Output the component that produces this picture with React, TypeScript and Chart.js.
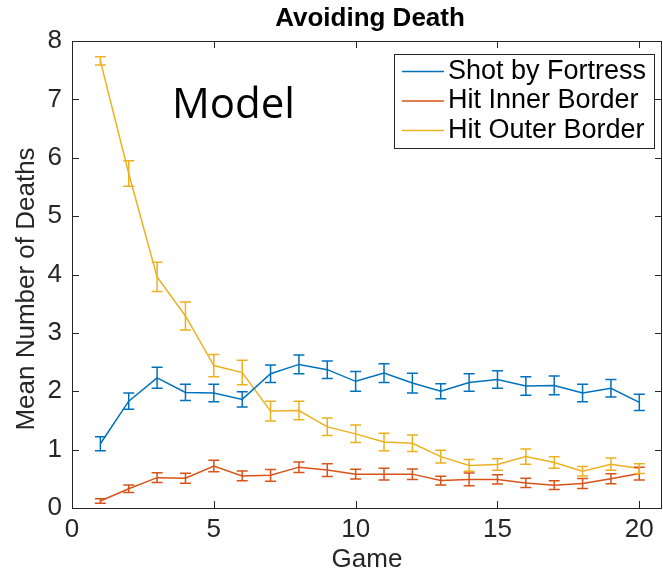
import React, { useEffect, useRef } from "react";
import { Chart, registerables } from "chart.js";

Chart.register(...registerables);

const games = [1, 2, 3, 4, 5, 6, 7, 8, 9, 10, 11, 12, 13, 14, 15, 16, 17, 18, 19, 20];

const shotByFortress = [1.1, 1.83, 2.23, 1.98, 1.97, 1.86, 2.3, 2.46, 2.37, 2.17, 2.31, 2.14, 2.0, 2.15, 2.2, 2.09, 2.1, 1.97, 2.05, 1.81];
const shotByFortressErr = [0.12, 0.14, 0.18, 0.14, 0.15, 0.13, 0.15, 0.16, 0.15, 0.17, 0.16, 0.17, 0.13, 0.15, 0.15, 0.16, 0.16, 0.15, 0.15, 0.14];

const hitInner = [0.12, 0.33, 0.52, 0.51, 0.72, 0.55, 0.56, 0.7, 0.65, 0.58, 0.58, 0.58, 0.47, 0.49, 0.49, 0.43, 0.39, 0.42, 0.5, 0.59];
const hitInnerErr = [0.04, 0.065, 0.085, 0.085, 0.1, 0.085, 0.1, 0.09, 0.11, 0.085, 0.1, 0.09, 0.075, 0.11, 0.08, 0.08, 0.075, 0.085, 0.085, 0.11];

const hitOuter = [7.66, 5.73, 3.96, 3.29, 2.44, 2.32, 1.66, 1.67, 1.39, 1.27, 1.13, 1.11, 0.88, 0.73, 0.745, 0.88, 0.78, 0.63, 0.75, 0.675];
const hitOuterErr = [0.07, 0.22, 0.25, 0.24, 0.19, 0.21, 0.17, 0.16, 0.15, 0.15, 0.15, 0.14, 0.11, 0.1, 0.1, 0.13, 0.1, 0.08, 0.105, 0.085];

const seriesLabels = ["Shot by Fortress", "Hit Inner Border", "Hit Outer Border"];
const seriesColors = ["#0072BD", "#D95319", "#EDB120"];
const xTicks = [0, 5, 10, 15, 20];
const yTicks = [0, 1, 2, 3, 4, 5, 6, 7, 8];

const titleText = "Avoiding Death";
const annotationText = "Model";
const xTitle = "Game";
const yTitle = "Mean Number of Deaths";

const errors = [shotByFortressErr, hitInnerErr, hitOuterErr];
const values = [shotByFortress, hitInner, hitOuter];

const AXIS = "#262626";
const FONT = "'Liberation Sans', Arial, sans-serif";

const decorPlugin = {
  id: "decor",
  afterDatasetsDraw(chart: any) {
    const { ctx, scales } = chart;
    const xs = scales.x;
    const ys = scales.y;
    ctx.save();
    values.forEach((vals, i) => {
      ctx.strokeStyle = seriesColors[i];
      ctx.lineWidth = 1.5;
      vals.forEach((v, j) => {
        const x = xs.getPixelForValue(games[j]);
        const yt = ys.getPixelForValue(v + errors[i][j]);
        const yb = ys.getPixelForValue(v - errors[i][j]);
        const cap = 5.5;
        ctx.beginPath();
        ctx.moveTo(x, yt);
        ctx.lineTo(x, yb);
        ctx.moveTo(x - cap, yt);
        ctx.lineTo(x + cap, yt);
        ctx.moveTo(x - cap, yb);
        ctx.lineTo(x + cap, yb);
        ctx.stroke();
      });
    });
    ctx.restore();
  },
  afterDraw(chart: any) {
    const { ctx, chartArea, scales } = chart;
    const { left, right, top, bottom } = chartArea;
    const xs = scales.x;
    const ys = scales.y;
    ctx.save();
    ctx.strokeStyle = AXIS;
    ctx.lineWidth = 1;
    ctx.strokeRect(Math.round(left) + 0.5, Math.round(top) + 0.5, Math.round(right - left) - 1, Math.round(bottom - top));
    const tl = 7;
    ctx.beginPath();
    xTicks.forEach((t) => {
      const x = Math.round(xs.getPixelForValue(t)) + 0.5;
      ctx.moveTo(x, bottom);
      ctx.lineTo(x, bottom - tl);
      ctx.moveTo(x, top);
      ctx.lineTo(x, top + tl);
    });
    yTicks.forEach((t) => {
      const y = Math.round(ys.getPixelForValue(t)) + 0.5;
      ctx.moveTo(left, y);
      ctx.lineTo(left + tl, y);
      ctx.moveTo(right, y);
      ctx.lineTo(right - tl, y);
    });
    ctx.stroke();

    // title
    ctx.fillStyle = "#000";
    ctx.font = "bold 26px " + FONT;
    ctx.textAlign = "center";
    ctx.textBaseline = "middle";
    ctx.fillText(titleText, 370, 19);

    // y axis title
    ctx.save();
    ctx.fillStyle = AXIS;
    ctx.font = "26px " + FONT;
    ctx.translate(27, 289);
    ctx.rotate(-Math.PI / 2);
    ctx.textAlign = "center";
    ctx.textBaseline = "middle";
    ctx.fillText(yTitle, 0, 0);
    ctx.restore();

    // annotation
    ctx.fillStyle = "#000";
    ctx.font = "42px 'Open Sans', sans-serif";
    ctx.textAlign = "left";
    ctx.textBaseline = "alphabetic";
    ctx.fillText(annotationText, 172, 118);

    // legend
    const lx = 394.5, ly = 54.5, lw = 260, lh = 94;
    ctx.fillStyle = "#fff";
    ctx.fillRect(lx, ly, lw, lh);
    ctx.strokeStyle = AXIS;
    ctx.lineWidth = 1;
    ctx.strokeRect(lx, ly, lw, lh);
    ctx.font = "27px " + FONT;
    ctx.textBaseline = "middle";
    ctx.textAlign = "left";
    const rows = [71.5, 101, 130.5];
    seriesLabels.forEach((lab, i) => {
      ctx.strokeStyle = seriesColors[i];
      ctx.lineWidth = 1.5;
      ctx.beginPath();
      ctx.moveTo(402, rows[i]);
      ctx.lineTo(444, rows[i]);
      ctx.stroke();
      ctx.fillStyle = "#000";
      ctx.fillText(lab, 448, rows[i]);
    });
    ctx.restore();
  },
};

export default function App() {
  const ref = useRef<HTMLCanvasElement>(null);
  useEffect(() => {
    if (!ref.current) return;
    const chart = new Chart(ref.current, {
      type: "line",
      data: {
        datasets: values.map((vals, i) => ({
          label: seriesLabels[i],
          data: vals.map((v, j) => ({ x: games[j], y: v })),
          borderColor: seriesColors[i],
          backgroundColor: seriesColors[i],
          borderWidth: 1.5,
          pointRadius: 0,
          tension: 0,
          fill: false,
        })),
      },
      options: {
        responsive: false,
        animation: false,
        layout: { padding: { top: 41, right: 1, left: 0, bottom: 0 } },
        plugins: {
          legend: { display: false },
          title: { display: false },
          tooltip: { enabled: false },
        },
        scales: {
          x: {
            type: "linear",
            min: 0,
            max: 20.8,
            grid: { display: false, drawTicks: false },
            border: { display: false },
            ticks: {
              stepSize: 5,
              includeBounds: false,
              color: AXIS,
              padding: 6,
              font: { size: 26, family: FONT },
              maxRotation: 0,
            },
            title: {
              display: true,
              text: xTitle,
              color: AXIS,
              font: { size: 26, family: FONT },
              padding: { top: 0, bottom: 3 },
            },
            afterFit: (s: any) => {
              s.height = 70;
            },
          },
          y: {
            type: "linear",
            min: 0,
            max: 8,
            grid: { display: false, drawTicks: false },
            border: { display: false },
            ticks: {
              stepSize: 1,
              color: AXIS,
              padding: 10,
              font: { size: 26, family: FONT },
            },
            afterFit: (s: any) => {
              s.width = 72;
            },
          },
        },
      },
      plugins: [decorPlugin],
    });
    return () => chart.destroy();
  }, []);
  return (
    <div style={{ position: "fixed", left: 0, top: 0, width: 663, height: 578, background: "#fff" }}>
      <canvas ref={ref} width={663} height={578} style={{ display: "block" }} />
    </div>
  );
}
